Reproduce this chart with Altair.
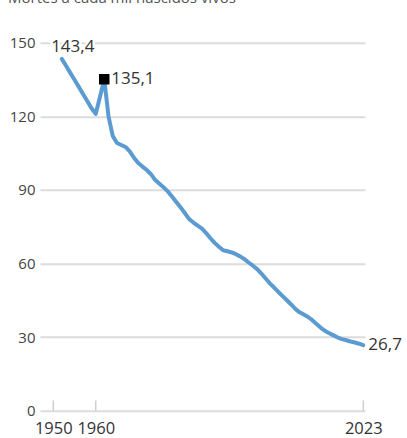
import altair as alt
import pandas as pd

years = list(range(1952, 2024))
values = [
    143.4, 140.6, 137.7, 134.9, 132.0, 129.1, 126.2, 123.3, 121.0, 128.0,
    135.1, 120.0, 112.0, 109.1, 108.3, 107.5, 105.7, 103.1, 101.0, 99.5,
    98.1, 96.4, 94.0, 92.5, 91.0, 89.3, 87.2, 85.0, 82.8, 80.5,
    78.1, 76.7, 75.4, 74.2, 72.4, 70.3, 68.4, 66.8, 65.4, 65.0,
    64.5, 63.8, 62.9, 61.8, 60.4, 59.1, 57.7, 55.9, 53.9, 51.9,
    50.2, 48.4, 46.7, 45.0, 43.3, 41.5, 40.1, 39.2, 38.2, 36.9,
    35.3, 33.8, 32.5, 31.6, 30.7, 29.8, 29.2, 28.7, 28.2, 27.8,
    27.3, 26.7,
]
x_ticks = [1950, 1960, 2023]
y_ticks = [0, 30, 60, 90, 120, 150]

label_years = [1952, 1962, 2023]
label_values = [143.4, 135.1, 26.7]
label_texts = ["143,4", "135,1", "26,7"]
title_text = "Mortes a cada mil nascidos vivos"

df = pd.DataFrame({"year": years, "value": values})
lab = pd.DataFrame({"year": label_years, "value": label_values, "text": label_texts})
ticks_df = pd.DataFrame({"year": x_ticks, "y0": [0] * 3, "y1": [4.2] * 3})

FONT = "Open Sans"
xscale = alt.Scale(domain=[1946.87, 2023.4], nice=False, zero=False)
yscale = alt.Scale(domain=[0, 150], nice=False)

base = alt.Chart(df)

grid = base.mark_line(opacity=0).encode(
    x=alt.X("year:Q", scale=xscale,
            axis=alt.Axis(values=x_ticks, format="d", grid=False, ticks=False,
                          domain=False, labelFontSize=16.5, labelFont=FONT,
                          labelColor="#333", labelPadding=10, title=None)),
    y=alt.Y("value:Q", scale=yscale,
            axis=alt.Axis(values=y_ticks, grid=True, gridColor="#dcdcdc",
                          gridWidth=2, ticks=False, domain=False,
                          labelFontSize=15, labelFont=FONT, labelColor="#444",
                          labelPadding=5, title=None)),
)

tick_rules = alt.Chart(ticks_df).mark_rule(color="#cfcfcf", strokeWidth=1.5).encode(
    x=alt.X("year:Q", scale=xscale),
    y=alt.Y("y0:Q", scale=yscale),
    y2="y1:Q",
)

line = base.mark_line(color="#5b9bd2", strokeWidth=4, strokeCap="round",
                      strokeJoin="round").encode(
    x=alt.X("year:Q", scale=xscale),
    y=alt.Y("value:Q", scale=yscale),
)

peak = alt.Chart(lab.iloc[[1]]).mark_square(color="black", size=110, opacity=1).encode(
    x=alt.X("year:Q", scale=xscale),
    y=alt.Y("value:Q", scale=yscale),
)

def label_layer(idx, dx, dy, align):
    d = lab.iloc[[idx]]
    halo = alt.Chart(d).mark_text(
        align=align, baseline="middle", dx=dx, dy=dy, fontSize=17, font=FONT,
        stroke="white", strokeWidth=5, fill="white",
    ).encode(x=alt.X("year:Q", scale=xscale), y=alt.Y("value:Q", scale=yscale), text="text:N")
    txt = alt.Chart(d).mark_text(
        align=align, baseline="middle", dx=dx, dy=dy, fontSize=17, font=FONT,
        color="#333",
    ).encode(x=alt.X("year:Q", scale=xscale), y=alt.Y("value:Q", scale=yscale), text="text:N")
    return halo + txt

title = alt.Chart(pd.DataFrame({"t": [title_text]})).mark_text(
    align="left", baseline="alphabetic", fontSize=15, font=FONT, color="#555",
).encode(x=alt.value(-32), y=alt.value(-39.5), text="t:N")

chart = alt.layer(
    grid, tick_rules, line,
    label_layer(0, 11, -12, "center"),
    label_layer(1, 7, 0, "left"),
    label_layer(2, 5, 0, "left"),
    peak, title,
).properties(
    width=325, height=368,
    autosize=alt.AutoSizeParams(type="none"),
    padding={"left": 40, "top": 42.7, "right": 42, "bottom": 27.3},
).configure_view(stroke=None)

chart.save("out.html", embed_options={"renderer": "svg", "actions": False})
